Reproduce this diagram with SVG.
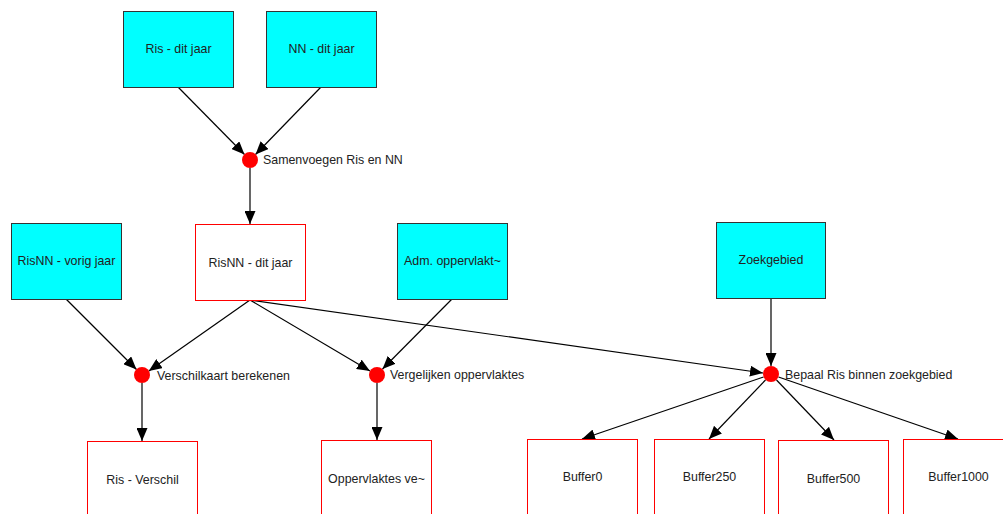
<svg xmlns="http://www.w3.org/2000/svg" width="1003" height="514" viewBox="0 0 1003 514">
<defs>
<marker id="ah" viewBox="0 0 13 11" refX="13" refY="5.5" markerWidth="13" markerHeight="11" markerUnits="userSpaceOnUse" orient="auto">
<path d="M0,0 L13,5.5 L0,11 Z" fill="#000"/>
</marker>
</defs>
<style>
text{font-family:"Liberation Sans",Arial,sans-serif;font-size:12.4px;fill:#222;dominant-baseline:central}
.c{text-anchor:middle}
.in{fill:#00ffff;stroke:#333;stroke-width:1}
.out{fill:#fff;stroke:#ff0000;stroke-width:1}
.dot{fill:#ff0000}
.e{stroke:#000;stroke-width:1.2;fill:none;marker-end:url(#ah)}
</style>
<rect width="1003" height="514" fill="#fff"/>
<g id="connectors">
<line class="e" x1="178" y1="87" x2="244.5" y2="154.5"/>
<line class="e" x1="321" y1="87" x2="255.5" y2="154.5"/>
<line class="e" x1="250" y1="168" x2="250" y2="224"/>
<line class="e" x1="66" y1="299" x2="136.5" y2="369.5"/>
<line class="e" x1="250" y1="300" x2="148.8" y2="371"/>
<line class="e" x1="250" y1="300" x2="370" y2="371"/>
<line class="e" x1="250" y1="300" x2="763" y2="373"/>
<line class="e" x1="452" y1="299" x2="382.5" y2="369"/>
<line class="e" x1="771" y1="298" x2="771" y2="366"/>
<line class="e" x1="142" y1="383" x2="142" y2="441"/>
<line class="e" x1="377" y1="383" x2="377" y2="440"/>
<line class="e" x1="763.5" y1="377" x2="582" y2="439"/>
<line class="e" x1="765.5" y1="380" x2="709" y2="439"/>
<line class="e" x1="776.5" y1="380" x2="834" y2="440"/>
<line class="e" x1="778.5" y1="377" x2="958" y2="439"/>
</g>
<g id="ris-dit-jaar"><rect class="in" x="123.5" y="11.5" width="110" height="76"/><text class="c" x="178.5" y="49">Ris - dit jaar</text></g>
<g id="nn-dit-jaar"><rect class="in" x="266.5" y="11.5" width="110" height="76"/><text class="c" x="321.5" y="49">NN - dit jaar</text></g>
<g id="samenvoegen"><circle class="dot" cx="250" cy="160" r="8"/><text x="263" y="160">Samenvoegen Ris en NN</text></g>
<g id="risnn-vorig-jaar"><rect class="in" x="11.5" y="223.5" width="110" height="76"/><text class="c" x="66.5" y="261">RisNN - vorig jaar</text></g>
<g id="risnn-dit-jaar"><rect class="out" x="195.5" y="224.5" width="110" height="76"/><text class="c" x="250.5" y="263">RisNN - dit jaar</text></g>
<g id="adm"><rect class="in" x="397.5" y="223.5" width="110" height="76"/><text class="c" x="452.5" y="261">Adm. oppervlakt~</text></g>
<g id="zoekgebied"><rect class="in" x="716.5" y="222.5" width="109" height="76"/><text class="c" x="771" y="260">Zoekgebied</text></g>
<g id="verschilkaart"><circle class="dot" cx="142" cy="375" r="8"/><text x="157" y="376">Verschilkaart berekenen</text></g>
<g id="vergelijken"><circle class="dot" cx="377" cy="375" r="8"/><text x="390" y="375">Vergelijken oppervlaktes</text></g>
<g id="bepaal"><circle class="dot" cx="771" cy="374" r="8"/><text x="785" y="375">Bepaal Ris binnen zoekgebied</text></g>
<g id="ris-verschil"><rect class="out" x="87.5" y="441.5" width="110" height="76"/><text class="c" x="142.5" y="480">Ris - Verschil</text></g>
<g id="oppervlaktes"><rect class="out" x="321.5" y="440.5" width="110" height="76"/><text class="c" x="376.5" y="479">Oppervlaktes ve~</text></g>
<g id="buffer0"><rect class="out" x="527.5" y="439.5" width="110" height="76"/><text class="c" x="582.5" y="477">Buffer0</text></g>
<g id="buffer250"><rect class="out" x="654.5" y="439.5" width="110" height="76"/><text class="c" x="709.5" y="477">Buffer250</text></g>
<g id="buffer500"><rect class="out" x="778.5" y="440.5" width="110" height="76"/><text class="c" x="833.5" y="479">Buffer500</text></g>
<g id="buffer1000"><rect class="out" x="903.5" y="439.5" width="110" height="76"/><text class="c" x="958.5" y="477">Buffer1000</text></g>
</svg>
